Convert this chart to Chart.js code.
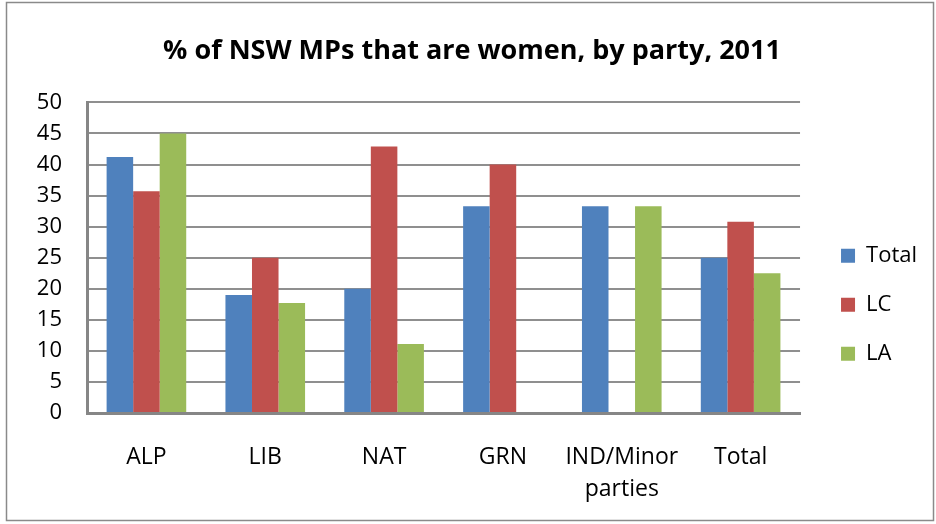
<!DOCTYPE html>
<html>
<head>
<meta charset="utf-8">
<script src="https://cdn.jsdelivr.net/npm/chart.js@4"></script>
<style>
  html, body { margin: 0; padding: 0; background: #fff; }
  #wrap { position: relative; width: 936px; height: 524px; }
</style>
</head>
<body>
<div id="wrap"><canvas id="chartCanvas" width="936" height="524"></canvas></div>
<script>
const categories = ['ALP', 'LIB', 'NAT', 'GRN', ['IND/Minor', 'parties'], 'Total'];
const totalValues = [41.2, 19.0, 20.0, 33.3, 33.3, 25.0];
const lcValues = [35.7, 25.0, 42.9, 40.0, 0, 30.8];
const laValues = [45.0, 17.7, 11.1, 0, 33.3, 22.5];
const yTicks = [0, 5, 10, 15, 20, 25, 30, 35, 40, 45, 50];

const font = 'Open Sans';

// frame round the whole chart, like the Excel chart border
const framePlugin = {
    id: 'frame',
    afterDraw(chart) {
        const c = chart.ctx;
        c.save();
        c.strokeStyle = '#8a8a8a';
        c.lineWidth = 1.5;
        c.strokeRect(6.5, 2.5, 927, 518);
        c.restore();
    }
};

const ctx = document.getElementById('chartCanvas').getContext('2d');
new Chart(ctx, {
    type: 'bar',
    data: {
        labels: categories,
        datasets: [
            { label: 'Total', data: totalValues, backgroundColor: '#4F81BD' },
            { label: 'LC', data: lcValues, backgroundColor: '#C0504D' },
            { label: 'LA', data: laValues, backgroundColor: '#9BBB59' }
        ]
    },
    options: {
        responsive: false,
        animation: false,
        layout: { padding: { left: 17, right: 9, top: 0, bottom: 19 } },
        datasets: { bar: { categoryPercentage: 0.67, barPercentage: 1.0 } },
        scales: {
            x: {
                grid: { display: false, drawTicks: false },
                border: { color: '#868686', width: 3 },
                ticks: { color: '#000', padding: 28, font: { family: font, size: 23, lineHeight: 1.39 } },
                afterFit: scale => { scale.height = 92; }
            },
            y: {
                min: 0,
                max: 50,
                afterBuildTicks: scale => { scale.ticks = yTicks.map(v => ({ value: v })); },
                grid: { color: '#8f8f8f', lineWidth: 2, drawTicks: false },
                border: { color: '#868686', width: 3 },
                ticks: { color: '#000', padding: 25, font: { family: font, size: 22 } },
                afterFit: scale => { scale.width = 70; }
            },
            gap: {
                position: 'right',
                display: true,
                grid: { display: false, drawTicks: false },
                border: { display: false },
                ticks: { display: false },
                afterFit: scale => { scale.width = 14; }
            }
        },
        plugins: {
            title: {
                display: true,
                text: '% of NSW MPs that are women, by party, 2011',
                color: '#000',
                font: { family: font, size: 27, weight: 'bold' },
                padding: { top: 35, bottom: 35 }
            },
            legend: {
                position: 'right',
                fullSize: false,
                title: { display: true, text: ' ', font: { family: font, size: 20 }, padding: { top: 0, bottom: 70 } },
                labels: {
                    color: '#000',
                    boxWidth: 14,
                    boxHeight: 14,
                    padding: 27,
                    font: { family: font, size: 22 }
                }
            },
            tooltip: { enabled: false }
        }
    },
    plugins: [framePlugin]
});
</script>
</body>
</html>
